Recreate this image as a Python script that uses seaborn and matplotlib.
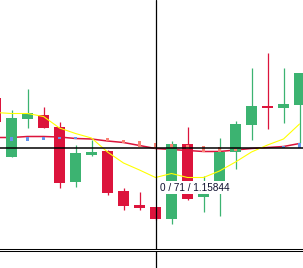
import matplotlib
matplotlib.use("Agg")
import matplotlib.pyplot as plt
import seaborn as sns
import pandas as pd
import numpy as np

# candle data (bar index 0..19, newest on the right)
bar_idx = list(range(20))
opens = [1.15944, 1.15826, 1.15901, 1.15910, 1.15885, 1.15775, 1.15830, 1.15837, 1.15757, 1.15729,
         1.15725, 1.15701, 1.15852, 1.15745, 1.15777, 1.15835, 1.15890, 1.15928, 1.15924, 1.15929]
highs = [1.15956, 1.15920, 1.15962, 1.15926, 1.15896, 1.15850, 1.15860, 1.15840, 1.15764, 1.15755,
         1.15726, 1.15857, 1.15885, 1.15788, 1.15864, 1.15898, 1.16004, 1.16034, 1.16004, 1.15994]
lows = [1.15888, 1.15826, 1.15883, 1.15883, 1.15763, 1.15765, 1.15827, 1.15749, 1.15719, 1.15719,
        1.15700, 1.15691, 1.15739, 1.15715, 1.15707, 1.15801, 1.15859, 1.15881, 1.15893, 1.15854]
closes = [1.15896, 1.15904, 1.15913, 1.15883, 1.15773, 1.15833, 1.15836, 1.15753, 1.15727, 1.15723,
          1.15701, 1.15852, 1.15742, 1.15755, 1.15835, 1.15892, 1.15928, 1.15924, 1.15932, 1.15994]

# moving averages
ma_slow = [1.15865, 1.15865, 1.15867, 1.15867, 1.15866, 1.15863, 1.15862, 1.15858, 1.15855, 1.15849,
           1.15843, 1.15841, 1.15839, 1.15837, 1.15837, 1.15840, 1.15843, 1.15845, 1.15847, 1.15853]
ma_fast = [1.15915, 1.15913, 1.15913, 1.15907, 1.15884, 1.15873, 1.15864, 1.15836, 1.15814, 1.15800,
           1.15785, 1.15793, 1.15785, 1.15785, 1.15798, 1.15816, 1.15836, 1.15850, 1.15862, 1.15892]

# small histogram bars (top / bottom price, None = no bar)
hist_top = [None, 1.15865, 1.15865, 1.15865, 1.15865, 1.15865, None, 1.15863, 1.15860, 1.15858,
            1.15854, 1.15851, 1.15850, 1.15848, 1.15846, 1.15842, None, None, 1.15848, 1.15854]
hist_bot = [None, 1.15857, 1.15858, 1.15860, 1.15861, 1.15861, None, 1.15858, 1.15853, 1.15846,
            1.15842, 1.15843, 1.15842, 1.15836, 1.15836, 1.15838, None, None, 1.15844, 1.15844]
hist_up = [False, False, False, False, False, False, False, True, True, True,
           True, True, True, True, True, True, False, False, False, False]

cross_bar = 10
cross_price = 1.15844
cross_label = "0 / 71 / 1.15844"

sns.set_style("white")
plt.rcParams['font.family'] = ['Liberation Sans', 'DejaVu Sans']

fig = plt.figure(figsize=(3.03, 2.68), dpi=100)
ax = fig.add_axes([0, 0.06903, 1, 0.93097])
sub = fig.add_axes([0, 0, 1, 0.06157])

up_col = '#3cb371'
dn_col = '#dc143c'

df = pd.DataFrame({'bar': bar_idx, 'open': opens, 'high': highs, 'low': lows,
                   'close': closes, 'ma_slow': ma_slow, 'ma_fast': ma_fast})

# slow MA under the candles
sns.lineplot(data=df, x='bar', y='ma_slow', ax=ax, color=dn_col, linewidth=1.1, zorder=1)

# candles
cols = [up_col if c >= o else dn_col for o, c in zip(df['open'], df['close'])]
ax.vlines(df['bar'], df['low'], df['high'], colors=cols, linewidth=0.9, zorder=2)
body_lo = np.minimum(df['open'], df['close'])
body_h = np.abs(df['close'] - df['open'])
ax.bar(df['bar'], body_h, bottom=body_lo, width=0.6875, color=cols, linewidth=0, zorder=2)

# histogram bars
for i in bar_idx:
    if hist_top[i] is None:
        continue
    c = '#fa8072' if hist_up[i] else '#6495ed'
    ax.bar(i, hist_top[i] - hist_bot[i], bottom=hist_bot[i], width=0.1875,
           color=c, linewidth=0, zorder=3)

# fast MA on top
sns.lineplot(data=df, x='bar', y='ma_fast', ax=ax, color='#ffff00', linewidth=0.8, zorder=4)

# crosshair
ax.axhline(cross_price, color='black', linewidth=1.1, zorder=5)
ax.axvline(cross_bar, color='black', linewidth=0.9, zorder=5)
sub.axvline(cross_bar, color='black', linewidth=0.9)
ax.annotate(cross_label, xy=(cross_bar, cross_price), xytext=(4, -35),
            textcoords='offset pixels', ha='left', va='top', fontsize=7.2,
            color='#101030', zorder=6,
            bbox=dict(boxstyle='square,pad=0.15', facecolor='white', edgecolor='none'))

ax.set_xlim(0.28125, 19.21875)
ax.set_ylim(1.15641, 1.16140)
sub.set_xlim(0.28125, 19.21875)
sub.set_ylim(0, 1)

for a in (ax, sub):
    a.set_xlabel('')
    a.set_ylabel('')
    a.set_xticks([])
    a.set_yticks([])
    for s in a.spines.values():
        s.set_visible(False)
ax.spines['bottom'].set_visible(True)
ax.spines['bottom'].set_color('black')
ax.spines['bottom'].set_linewidth(0.75)
sub.spines['top'].set_visible(True)
sub.spines['top'].set_color('black')
sub.spines['top'].set_linewidth(0.75)

fig.savefig('out.png', dpi=100)
